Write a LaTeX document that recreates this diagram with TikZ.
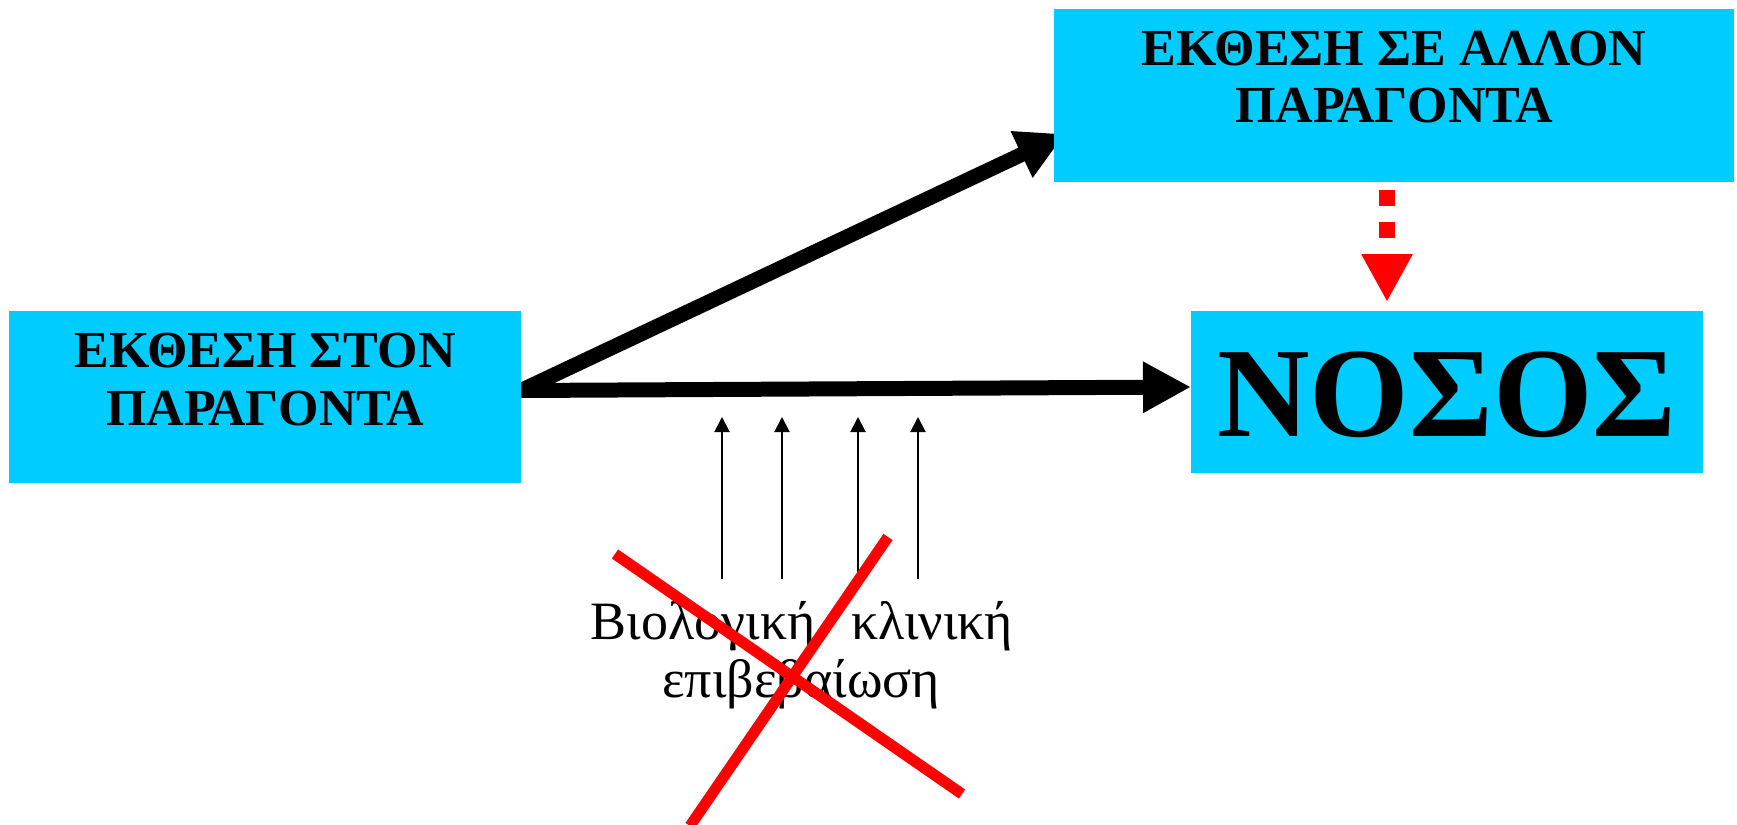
\documentclass[tikz,border=0pt]{standalone}
\usepackage{fontspec}
\setmainfont{Liberation Serif}
\usetikzlibrary{arrows.meta}
\pgfdeclarelayer{back}
\pgfsetlayers{back,main}
\definecolor{boxcyan}{RGB}{0,204,255}

\begin{document}
\begin{tikzpicture}[x=0.5pt,y=-0.5pt,
  box/.style={fill=boxcyan, draw=none, inner sep=0pt, outer sep=0pt},
  boxtext/.style={anchor=base, inner sep=0pt, font=\fontsize{26}{29}\selectfont\bfseries},
  bigtext/.style={anchor=base, inner sep=0pt, font=\fontsize{64}{70}\selectfont\bfseries},
  lowtext/.style={anchor=base, inner sep=0pt, font=\fontsize{27}{30}\selectfont},
  heavyarrow/.style={line width=7.5pt, -{Triangle[length=24pt,width=24pt]}},
  reddash/.style={red, line width=8pt, dash pattern=on 8pt off 8pt,
    -{Triangle[length=24pt,width=24pt]}},
  thinarrow/.style={line width=1pt, -{Triangle[length=7.5pt,width=7.5pt]}},
  cross/.style={red, line width=5.5pt}]
\useasboundingbox (0,0) rectangle (1737,825);

% boxes
\node[box, minimum width=256pt, minimum height=86pt] (b1) at (265,397) {};
\node[box, minimum width=340pt, minimum height=86.5pt] (b2) at (1394,95.5) {};
\node[box, minimum width=256pt, minimum height=81pt] (b3) at (1447,392) {};

% box labels
\node[boxtext] (b1l1) at (265,367) {ΕΚΘΕΣΗ ΣΤΟΝ};
\node[boxtext] (b1l2) at (265,425) {ΠΑΡΑΓΟΝΤΑ};
\node[boxtext] (b2l1) at (1394,65) {ΕΚΘΕΣΗ ΣΕ ΑΛΛΟΝ};
\node[boxtext] (b2l2) at (1394,122) {ΠΑΡΑΓΟΝΤΑ};
\node[bigtext] (nosos) at (1447,436) {ΝΟΣΟΣ};

% heavy arrows, kept behind the boxes
\begin{pgfonlayer}{back}
  \coordinate (src) at ([yshift=3.25pt]b1.east);
  \draw[heavyarrow] (src) -- ([yshift=2.5pt]b3.west);
  \draw[heavyarrow] (src) -- ([xshift=5.5pt,yshift=-19.25pt]b2.west);
\end{pgfonlayer}

% dashed red arrow
\coordinate (dcol) at (1387,0);
\draw[reddash, shorten <=4pt, shorten >=4.5pt] (b2.south -| dcol) -- (b3.north -| dcol);

% thin arrows
\foreach \i/\xx in {1/722,2/782,3/858,4/918}{
  \coordinate (ta\i) at (\xx,579);
  \coordinate (tb\i) at (\xx,417);
  \draw[thinarrow] (ta\i) -- (tb\i);
}

% lower label
\node[lowtext] (low1) at (802,639) {Βιολογική\hspace{18pt}κλινική};
\node[lowtext] (low2) at (801,697) {επιβεβαίωση};

% red cross
\coordinate (xa1) at (615,554);
\coordinate (xb1) at (962,794);
\coordinate (xa2) at (888,537);
\coordinate (xb2) at (690,826);
\draw[cross] (xa1) -- (xb1);
\draw[cross] (xa2) -- (xb2);
\end{tikzpicture}
\end{document}
